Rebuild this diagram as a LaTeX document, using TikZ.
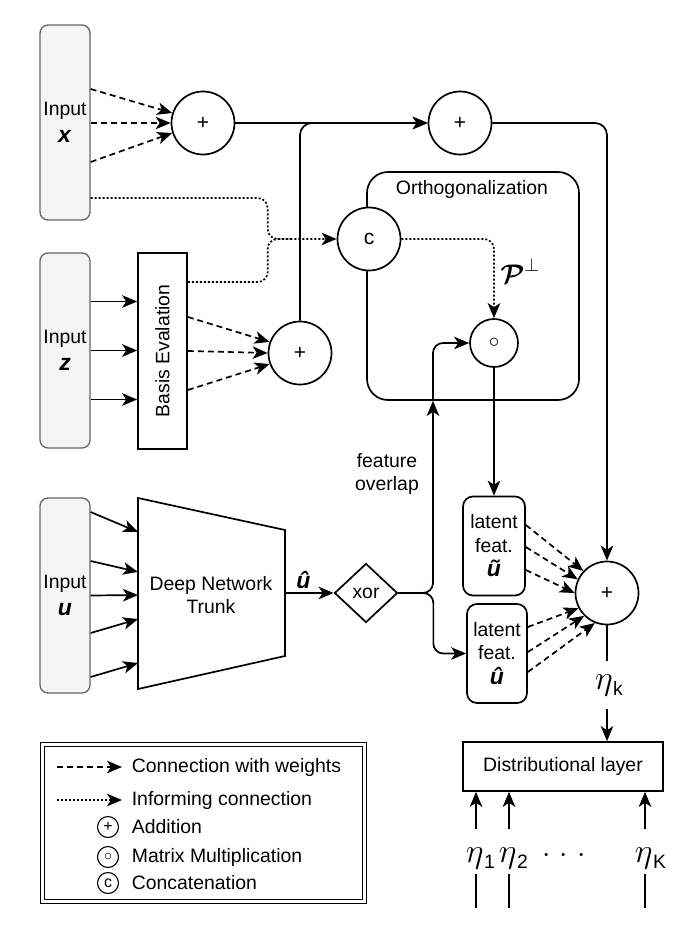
\RequirePackage{fix-cm}
\documentclass[tikz,border=0pt]{standalone}
\usepackage{fontspec}
\setmainfont{Liberation Sans}
\usepackage{bm}
\usetikzlibrary{arrows.meta,shapes.geometric,calc}

\definecolor{inborder}{HTML}{666666}
\definecolor{infill}{HTML}{F5F5F5}

% eta with an upright subscript
\newcommand\etalbl[1]{{\fontsize{34}{34}\selectfont$\eta$}\kern0.5pt\raisebox{-6pt}{#1}}
% bold italic variable symbols
\newcommand\bvar[1]{{\fontsize{23}{23}\selectfont\textbf{\textit{#1}}}}

\begin{document}
\begin{tikzpicture}[x=1pt,y=-1pt,
  every node/.style={font=\fontsize{19.4}{23.5}\selectfont},
  line width=1.7pt,
  >={Stealth[length=15pt,width=12.5pt,inset=4pt]},
  inbox/.style={draw=inborder, fill=infill, rounded corners=8pt, line width=1.3pt,
    minimum width=50pt, minimum height=195pt, inner sep=0pt, align=center},
  op/.style={circle, draw, fill=white, minimum size=63pt, inner sep=0pt,
    font=\fontsize{21}{21}\selectfont},
  latbox/.style={draw, fill=white, rounded corners=10pt, minimum width=62pt,
    minimum height=99pt, inner sep=0pt, align=center},
  wconn/.style={->, dash pattern=on 6pt off 4pt},
  iconn/.style={->, dash pattern=on 2pt off 2pt},
  legop/.style={circle, draw, line width=1.1pt, minimum size=21pt, inner sep=0pt,
    font=\fontsize{16}{16}\selectfont},
  legtext/.style={anchor=west, inner sep=0pt}
]
\useasboundingbox (0,0) rectangle (699,931);

% orthogonalization block
\node[draw, rounded corners=21pt, minimum width=212pt, minimum height=228pt, inner sep=0pt] (ortho) at (473,286) {};
\node (orthot) at (472,189) {Orthogonalization};

% inputs
\node[inbox] (inx) at (65,122.5) {Input\\[3pt]\bvar{x}};
\node[inbox] (inz) at (65,350.5) {Input\\[3pt]\bvar{z}};
\node[inbox] (inu) at (65,595.5) {Input\\[3pt]\bvar{u}};

% basis evaluation
\node[draw, fill=white, minimum width=49pt, minimum height=196pt, inner sep=0pt] (basis) at (162.5,351) {};
\node[rotate=90] (basislbl) at (basis.center) {Basis Evalation};

% trunk
\coordinate (tA) at (138,498);
\coordinate (tB) at (285,530);
\coordinate (tC) at (285,656);
\coordinate (tD) at (138,689);
\draw[fill=white] (tA) -- (tB) -- (tC) -- (tD) -- cycle;
\node[align=center] (trunk) at (211,595) {Deep Network\\Trunk};
\coordinate (tout) at ($(tB)!0.5!(tC)$);

% operators
\node[op] (plusA) at (203,123) {+};
\node[op] (plusB) at (460,123) {+};
\node[op] (plusC) at (300,353) {+};
\node[op] (conc) at (369,239) {c};
\node[op, minimum size=48pt] (mm) at (494,343) {$\circ$};
\node[op] (bigplus) at (607,593) {+};
\node[diamond, draw, fill=white, minimum width=63pt, minimum height=59pt, inner sep=0pt] (xor) at (366,593) {xor};

% latent features
\node[latbox] (lat1) at (494,546) {latent\\feat.\\[1pt]\bvar{ũ}};
\node[latbox, minimum width=60pt] (lat2) at (497,653.5) {latent\\feat.\\[1pt]\bvar{û}};

% distributional layer
\node[draw, fill=white, minimum width=200pt, minimum height=49pt] (dist) at (563,766.5) {Distributional layer};

% input x to first sum
\foreach \dy/\ang in {-33.5/162, 0.5/180, 39.5/198}
  \draw[wconn] ($(inx.east)+(0,\dy)$) -- (plusA.\ang);

% input z through the basis
\foreach \dy in {-49,0,49}{
  \path ($(inz.east)+(0,\dy)$) coordinate (s);
  \draw[->] (s) -- (s -| basis.west);
}
\foreach \dy/\ang in {-34/160, 0/180, 39/200}
  \draw[wconn] ($(basis.east)+(0,\dy)$) -- (plusC.\ang);

% informing connections into the concatenation
\draw[iconn, rounded corners=10pt] ($(inx.east)+(0,75.5)$) -| ($(conc.west)+(-69,0)$) -- (conc.west);
\draw[dash pattern=on 2pt off 2pt, rounded corners=10pt] ($(basis.east)+(0,-69)$) -| ($(conc.west)+(-69,0)$) -- ($(conc.west)+(-45,0)$);
\draw[iconn, rounded corners=10pt] (conc.east) -| (mm.north);
\node (perp) at (520,271) {\fontsize{27}{27}\selectfont$\bm{\mathcal{P}}^{\perp}$};

% sums along the top
\draw[->] (plusA.east) -- (plusB.west);
\draw[->, rounded corners=12pt] (plusC.north) |- (plusB.west);
\draw[->, rounded corners=12pt] (plusB.east) -| (bigplus.north);

% input u through the trunk
\foreach \dy/\t in {-83.5/0.178, -34.5/0.387, 0/0.508, 37.5/0.634, 81.5/0.864}
  \draw[->] ($(inu.east)+(0,\dy)$) -- ($(tA)!\t!(tD)$);
\draw[->] (tout) -- node[pos=0.38, above, inner sep=3pt] (uhat) {\bvar{û}} (xor.west);

% split after xor
\coordinate (fo) at ($(ortho.south)+(-40,0)$);
\draw[->, rounded corners=10pt] (xor.east) -| (fo);
\draw[->, rounded corners=10pt] (fo) |- (mm.west);
\draw[->, rounded corners=10pt] (xor.east) -- ++(35,0) |- (lat2.west);
\node[align=center] (overlap) at (387,474) {feature\\overlap};

\draw[->] (mm.south) -- (lat1.north);

% latent features into the final sum
\foreach \dy/\ang in {-21/137, 1/155, 24/180}
  \draw[wconn] ($(lat1.east)+(0,\dy)$) -- (bigplus.\ang);
\foreach \dy/\ang in {-26.5/208, -1.5/225, 18.5/248}
  \draw[wconn] ($(lat2.east)+(0,\dy)$) -- (bigplus.\ang);

% output eta_k
\node[inner sep=0pt, minimum height=46pt] (etak) at (609,685) {\etalbl{k}};
\draw (bigplus.south) -- (bigplus.south |- etak.north);
\draw[->] (bigplus.south |- etak.south) -- (bigplus.south |- dist.north);

% parameters below the distributional layer
\foreach \nm/\dx/\lbl in {e1/-87/1, e2/-54/2, eK/82/K}{
  \coordinate (t\nm) at ($(dist.south)+(\dx,37)$);
  \draw[->] (t\nm) -- (t\nm |- dist.south);
  \node[anchor=base west, inner sep=0pt] (\nm) at ($(t\nm)+(-11,34)$) {\etalbl{\lbl}};
  \coordinate (b\nm) at ($(t\nm)+(0,45)$);
  \draw (b\nm) -- ++(0,34);
}
\node[anchor=base, inner sep=0pt] (dots) at (564,862) {\fontsize{30}{30}\selectfont$\cdotp\kern4pt\cdotp\kern4pt\cdotp$};

% legend
\node[draw, double, double distance=2.5pt, line width=1pt, minimum width=322pt, minimum height=157pt, inner sep=0pt] (legend) at (203.5,823) {};
\draw[wconn] ($(legend.center)+(-146.5,-56)$) -- ($(legend.center)+(-81.5,-56)$);
\node[legtext] (lgw) at ($(legend.center)+(-72.5,-56)$) {Connection with weights};
\draw[iconn] ($(legend.center)+(-146.5,-23)$) -- ($(legend.center)+(-81.5,-23)$);
\node[legtext] (lgi) at ($(legend.center)+(-72.5,-23)$) {Informing connection};
\node[legop] (lgadd) at ($(legend.center)+(-95.5,4)$) {+};
\node[legtext] (lgaddt) at ($(legend.center)+(-72.5,4)$) {Addition};
\node[legop] (lgmm) at ($(legend.center)+(-95.5,34)$) {$\circ$};
\node[legtext] (lgmmt) at ($(legend.center)+(-72.5,34)$) {Matrix Multiplication};
\node[legop] (lgc) at ($(legend.center)+(-95.5,60)$) {c};
\node[legtext] (lgct) at ($(legend.center)+(-72.5,60)$) {Concatenation};
\end{tikzpicture}
\end{document}
